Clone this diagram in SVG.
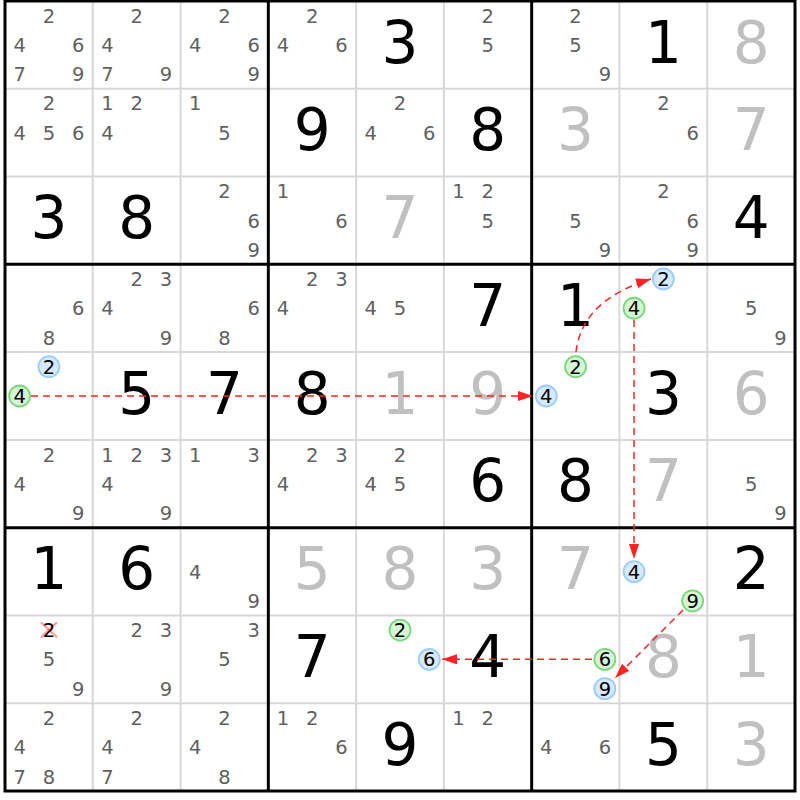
<svg xmlns="http://www.w3.org/2000/svg" width="800" height="800" viewBox="0 0 800 800">
<style>
text{font-family:"DejaVu Sans","Verdana",sans-serif;text-anchor:middle}
.c{font-size:19.5px;fill:#5f5f5f}
.k{font-size:19.5px;fill:#000}
.g{font-size:58px;fill:#000}
.s{font-size:58px;fill:#c0c0c0}
.bl{fill:#d6e9ff;stroke:#99ccff;stroke-width:1.8}
.gr{fill:#d6f5d6;stroke:#77d877;stroke-width:1.8}
.thin{stroke:#d8d8d8;stroke-width:2}
.thick{stroke:#000;stroke-width:3}
.ar{fill:none;stroke:#f22;stroke-width:1.5;stroke-dasharray:7,5;marker-end:url(#ah)}
</style>
<defs>
<marker id="ah" markerUnits="userSpaceOnUse" markerWidth="16" markerHeight="12" refX="15" refY="5" orient="auto"><path d="M0,0 L15,5 L0,10 z" fill="#f22"/></marker>
</defs>
<rect width="800" height="800" fill="#fff"/>
<g id="grid">
<g class="thin">
<line x1="92.78" y1="1" x2="92.78" y2="791"/><line x1="180.56" y1="1" x2="180.56" y2="791"/>
<line x1="356.11" y1="1" x2="356.11" y2="791"/><line x1="443.89" y1="1" x2="443.89" y2="791"/>
<line x1="619.44" y1="1" x2="619.44" y2="791"/><line x1="707.22" y1="1" x2="707.22" y2="791"/>
<line x1="5" y1="88.78" x2="795" y2="88.78"/><line x1="5" y1="176.56" x2="795" y2="176.56"/>
<line x1="5" y1="352.11" x2="795" y2="352.11"/><line x1="5" y1="439.89" x2="795" y2="439.89"/>
<line x1="5" y1="615.44" x2="795" y2="615.44"/><line x1="5" y1="703.22" x2="795" y2="703.22"/>
</g>
<g class="thick">
<line x1="268.33" y1="1" x2="268.33" y2="791"/><line x1="531.67" y1="1" x2="531.67" y2="791"/>
<line x1="5" y1="264.33" x2="795" y2="264.33"/><line x1="5" y1="527.67" x2="795" y2="527.67"/>
<rect x="5" y="1" width="790" height="790" fill="none"/>
</g>
</g>
<!-- Row 1 -->
<g id="r1c1" transform="translate(5,1)"><text class="c" x="43.9" y="21.7">2</text><text class="c" x="14.6" y="51">4</text><text class="c" x="73.2" y="51">6</text><text class="c" x="14.6" y="80.3">7</text><text class="c" x="73.2" y="80.3">9</text></g>
<g id="r1c2" transform="translate(92.78,1)"><text class="c" x="43.9" y="21.7">2</text><text class="c" x="14.6" y="51">4</text><text class="c" x="14.6" y="80.3">7</text><text class="c" x="73.2" y="80.3">9</text></g>
<g id="r1c3" transform="translate(180.56,1)"><text class="c" x="43.9" y="21.7">2</text><text class="c" x="14.6" y="51">4</text><text class="c" x="73.2" y="51">6</text><text class="c" x="73.2" y="80.3">9</text></g>
<g id="r1c4" transform="translate(268.33,1)"><text class="c" x="43.9" y="21.7">2</text><text class="c" x="14.6" y="51">4</text><text class="c" x="73.2" y="51">6</text></g>
<g id="r1c5" transform="translate(356.11,1)"><text class="g" x="43.9" y="61.5">3</text></g>
<g id="r1c6" transform="translate(443.89,1)"><text class="c" x="43.9" y="21.7">2</text><text class="c" x="43.9" y="51">5</text></g>
<g id="r1c7" transform="translate(531.67,1)"><text class="c" x="43.9" y="21.7">2</text><text class="c" x="43.9" y="51">5</text><text class="c" x="73.2" y="80.3">9</text></g>
<g id="r1c8" transform="translate(619.44,1)"><text class="g" x="43.9" y="61.5">1</text></g>
<g id="r1c9" transform="translate(707.22,1)"><text class="s" x="43.9" y="61.5">8</text></g>
<!-- Row 2 -->
<g id="r2c1" transform="translate(5,88.78)"><text class="c" x="43.9" y="21.7">2</text><text class="c" x="14.6" y="51">4</text><text class="c" x="43.9" y="51">5</text><text class="c" x="73.2" y="51">6</text></g>
<g id="r2c2" transform="translate(92.78,88.78)"><text class="c" x="14.6" y="21.7">1</text><text class="c" x="43.9" y="21.7">2</text><text class="c" x="14.6" y="51">4</text></g>
<g id="r2c3" transform="translate(180.56,88.78)"><text class="c" x="14.6" y="21.7">1</text><text class="c" x="43.9" y="51">5</text></g>
<g id="r2c4" transform="translate(268.33,88.78)"><text class="g" x="43.9" y="61.5">9</text></g>
<g id="r2c5" transform="translate(356.11,88.78)"><text class="c" x="43.9" y="21.7">2</text><text class="c" x="14.6" y="51">4</text><text class="c" x="73.2" y="51">6</text></g>
<g id="r2c6" transform="translate(443.89,88.78)"><text class="g" x="43.9" y="61.5">8</text></g>
<g id="r2c7" transform="translate(531.67,88.78)"><text class="s" x="43.9" y="61.5">3</text></g>
<g id="r2c8" transform="translate(619.44,88.78)"><text class="c" x="43.9" y="21.7">2</text><text class="c" x="73.2" y="51">6</text></g>
<g id="r2c9" transform="translate(707.22,88.78)"><text class="s" x="43.9" y="61.5">7</text></g>
<!-- Row 3 -->
<g id="r3c1" transform="translate(5,176.56)"><text class="g" x="43.9" y="61.5">3</text></g>
<g id="r3c2" transform="translate(92.78,176.56)"><text class="g" x="43.9" y="61.5">8</text></g>
<g id="r3c3" transform="translate(180.56,176.56)"><text class="c" x="43.9" y="21.7">2</text><text class="c" x="73.2" y="51">6</text><text class="c" x="73.2" y="80.3">9</text></g>
<g id="r3c4" transform="translate(268.33,176.56)"><text class="c" x="14.6" y="21.7">1</text><text class="c" x="73.2" y="51">6</text></g>
<g id="r3c5" transform="translate(356.11,176.56)"><text class="s" x="43.9" y="61.5">7</text></g>
<g id="r3c6" transform="translate(443.89,176.56)"><text class="c" x="14.6" y="21.7">1</text><text class="c" x="43.9" y="21.7">2</text><text class="c" x="43.9" y="51">5</text></g>
<g id="r3c7" transform="translate(531.67,176.56)"><text class="c" x="43.9" y="51">5</text><text class="c" x="73.2" y="80.3">9</text></g>
<g id="r3c8" transform="translate(619.44,176.56)"><text class="c" x="43.9" y="21.7">2</text><text class="c" x="73.2" y="51">6</text><text class="c" x="73.2" y="80.3">9</text></g>
<g id="r3c9" transform="translate(707.22,176.56)"><text class="g" x="43.9" y="61.5">4</text></g>
<!-- Row 4 -->
<g id="r4c1" transform="translate(5,264.33)"><text class="c" x="73.2" y="51">6</text><text class="c" x="43.9" y="80.3">8</text></g>
<g id="r4c2" transform="translate(92.78,264.33)"><text class="c" x="43.9" y="21.7">2</text><text class="c" x="73.2" y="21.7">3</text><text class="c" x="14.6" y="51">4</text><text class="c" x="73.2" y="80.3">9</text></g>
<g id="r4c3" transform="translate(180.56,264.33)"><text class="c" x="73.2" y="51">6</text><text class="c" x="43.9" y="80.3">8</text></g>
<g id="r4c4" transform="translate(268.33,264.33)"><text class="c" x="43.9" y="21.7">2</text><text class="c" x="73.2" y="21.7">3</text><text class="c" x="14.6" y="51">4</text></g>
<g id="r4c5" transform="translate(356.11,264.33)"><text class="c" x="14.6" y="51">4</text><text class="c" x="43.9" y="51">5</text></g>
<g id="r4c6" transform="translate(443.89,264.33)"><text class="g" x="43.9" y="61.5">7</text></g>
<g id="r4c7" transform="translate(531.67,264.33)"><text class="g" x="43.9" y="61.5">1</text></g>
<g id="r4c8" transform="translate(619.44,264.33)"><circle class="bl" cx="43.9" cy="14.6" r="10.5"/><text class="k" x="43.9" y="21.7">2</text><circle class="gr" cx="14.6" cy="43.9" r="10.5"/><text class="k" x="14.6" y="51">4</text></g>
<g id="r4c9" transform="translate(707.22,264.33)"><text class="c" x="43.9" y="51">5</text><text class="c" x="73.2" y="80.3">9</text></g>
<!-- Row 5 -->
<g id="r5c1" transform="translate(5,352.11)"><circle class="bl" cx="43.9" cy="14.6" r="10.5"/><text class="k" x="43.9" y="21.7">2</text><circle class="gr" cx="14.6" cy="43.9" r="10.5"/><text class="k" x="14.6" y="51">4</text></g>
<g id="r5c2" transform="translate(92.78,352.11)"><text class="g" x="43.9" y="61.5">5</text></g>
<g id="r5c3" transform="translate(180.56,352.11)"><text class="g" x="43.9" y="61.5">7</text></g>
<g id="r5c4" transform="translate(268.33,352.11)"><text class="g" x="43.9" y="61.5">8</text></g>
<g id="r5c5" transform="translate(356.11,352.11)"><text class="s" x="43.9" y="61.5">1</text></g>
<g id="r5c6" transform="translate(443.89,352.11)"><text class="s" x="43.9" y="61.5">9</text></g>
<g id="r5c7" transform="translate(531.67,352.11)"><circle class="gr" cx="43.9" cy="14.6" r="10.5"/><text class="k" x="43.9" y="21.7">2</text><circle class="bl" cx="14.6" cy="43.9" r="10.5"/><text class="k" x="14.6" y="51">4</text></g>
<g id="r5c8" transform="translate(619.44,352.11)"><text class="g" x="43.9" y="61.5">3</text></g>
<g id="r5c9" transform="translate(707.22,352.11)"><text class="s" x="43.9" y="61.5">6</text></g>
<!-- Row 6 -->
<g id="r6c1" transform="translate(5,439.89)"><text class="c" x="43.9" y="21.7">2</text><text class="c" x="14.6" y="51">4</text><text class="c" x="73.2" y="80.3">9</text></g>
<g id="r6c2" transform="translate(92.78,439.89)"><text class="c" x="14.6" y="21.7">1</text><text class="c" x="43.9" y="21.7">2</text><text class="c" x="73.2" y="21.7">3</text><text class="c" x="14.6" y="51">4</text><text class="c" x="73.2" y="80.3">9</text></g>
<g id="r6c3" transform="translate(180.56,439.89)"><text class="c" x="14.6" y="21.7">1</text><text class="c" x="73.2" y="21.7">3</text></g>
<g id="r6c4" transform="translate(268.33,439.89)"><text class="c" x="43.9" y="21.7">2</text><text class="c" x="73.2" y="21.7">3</text><text class="c" x="14.6" y="51">4</text></g>
<g id="r6c5" transform="translate(356.11,439.89)"><text class="c" x="43.9" y="21.7">2</text><text class="c" x="14.6" y="51">4</text><text class="c" x="43.9" y="51">5</text></g>
<g id="r6c6" transform="translate(443.89,439.89)"><text class="g" x="43.9" y="61.5">6</text></g>
<g id="r6c7" transform="translate(531.67,439.89)"><text class="g" x="43.9" y="61.5">8</text></g>
<g id="r6c8" transform="translate(619.44,439.89)"><text class="s" x="43.9" y="61.5">7</text></g>
<g id="r6c9" transform="translate(707.22,439.89)"><text class="c" x="43.9" y="51">5</text><text class="c" x="73.2" y="80.3">9</text></g>
<!-- Row 7 -->
<g id="r7c1" transform="translate(5,527.67)"><text class="g" x="43.9" y="61.5">1</text></g>
<g id="r7c2" transform="translate(92.78,527.67)"><text class="g" x="43.9" y="61.5">6</text></g>
<g id="r7c3" transform="translate(180.56,527.67)"><text class="c" x="14.6" y="51">4</text><text class="c" x="73.2" y="80.3">9</text></g>
<g id="r7c4" transform="translate(268.33,527.67)"><text class="s" x="43.9" y="61.5">5</text></g>
<g id="r7c5" transform="translate(356.11,527.67)"><text class="s" x="43.9" y="61.5">8</text></g>
<g id="r7c6" transform="translate(443.89,527.67)"><text class="s" x="43.9" y="61.5">3</text></g>
<g id="r7c7" transform="translate(531.67,527.67)"><text class="s" x="43.9" y="61.5">7</text></g>
<g id="r7c8" transform="translate(619.44,527.67)"><circle class="bl" cx="14.6" cy="43.9" r="10.5"/><text class="k" x="14.6" y="51">4</text><circle class="gr" cx="73.2" cy="73.2" r="10.5"/><text class="k" x="73.2" y="80.3">9</text></g>
<g id="r7c9" transform="translate(707.22,527.67)"><text class="g" x="43.9" y="61.5">2</text></g>
<!-- Row 8 -->
<g id="r8c1" transform="translate(5,615.44)"><g stroke="#f66" stroke-opacity="0.6" stroke-width="2.5"><line x1="36" y1="7" x2="52" y2="22"/><line x1="52" y1="7" x2="36" y2="22"/></g><text class="k" x="43.9" y="21.7">2</text><text class="c" x="43.9" y="51">5</text><text class="c" x="73.2" y="80.3">9</text></g>
<g id="r8c2" transform="translate(92.78,615.44)"><text class="c" x="43.9" y="21.7">2</text><text class="c" x="73.2" y="21.7">3</text><text class="c" x="73.2" y="80.3">9</text></g>
<g id="r8c3" transform="translate(180.56,615.44)"><text class="c" x="73.2" y="21.7">3</text><text class="c" x="43.9" y="51">5</text></g>
<g id="r8c4" transform="translate(268.33,615.44)"><text class="g" x="43.9" y="61.5">7</text></g>
<g id="r8c5" transform="translate(356.11,615.44)"><circle class="gr" cx="43.9" cy="14.6" r="10.5"/><text class="k" x="43.9" y="21.7">2</text><circle class="bl" cx="73.2" cy="43.9" r="10.5"/><text class="k" x="73.2" y="51">6</text></g>
<g id="r8c6" transform="translate(443.89,615.44)"><text class="g" x="43.9" y="61.5">4</text></g>
<g id="r8c7" transform="translate(531.67,615.44)"><circle class="gr" cx="73.2" cy="43.9" r="10.5"/><text class="k" x="73.2" y="51">6</text><circle class="bl" cx="73.2" cy="73.2" r="10.5"/><text class="k" x="73.2" y="80.3">9</text></g>
<g id="r8c8" transform="translate(619.44,615.44)"><text class="s" x="43.9" y="61.5">8</text></g>
<g id="r8c9" transform="translate(707.22,615.44)"><text class="s" x="43.9" y="61.5">1</text></g>
<!-- Row 9 -->
<g id="r9c1" transform="translate(5,703.22)"><text class="c" x="43.9" y="21.7">2</text><text class="c" x="14.6" y="51">4</text><text class="c" x="14.6" y="80.3">7</text><text class="c" x="43.9" y="80.3">8</text></g>
<g id="r9c2" transform="translate(92.78,703.22)"><text class="c" x="43.9" y="21.7">2</text><text class="c" x="14.6" y="51">4</text><text class="c" x="14.6" y="80.3">7</text></g>
<g id="r9c3" transform="translate(180.56,703.22)"><text class="c" x="43.9" y="21.7">2</text><text class="c" x="14.6" y="51">4</text><text class="c" x="43.9" y="80.3">8</text></g>
<g id="r9c4" transform="translate(268.33,703.22)"><text class="c" x="14.6" y="21.7">1</text><text class="c" x="43.9" y="21.7">2</text><text class="c" x="73.2" y="51">6</text></g>
<g id="r9c5" transform="translate(356.11,703.22)"><text class="g" x="43.9" y="61.5">9</text></g>
<g id="r9c6" transform="translate(443.89,703.22)"><text class="c" x="14.6" y="21.7">1</text><text class="c" x="43.9" y="21.7">2</text></g>
<g id="r9c7" transform="translate(531.67,703.22)"><text class="c" x="14.6" y="51">4</text><text class="c" x="73.2" y="51">6</text></g>
<g id="r9c8" transform="translate(619.44,703.22)"><text class="g" x="43.9" y="61.5">5</text></g>
<g id="r9c9" transform="translate(707.22,703.22)"><text class="s" x="43.9" y="61.5">3</text></g>
<!-- Connectors -->
<g id="connectors">
<path class="ar" d="M31,396 L533,396"/>
<path class="ar" d="M576,352 Q582,300 651,279"/>
<path class="ar" d="M634,320 L634,559"/>
<path class="ar" d="M683,610 L615,678"/>
<path class="ar" d="M592,659.3 L442,659.3"/>
</g>
</svg>
